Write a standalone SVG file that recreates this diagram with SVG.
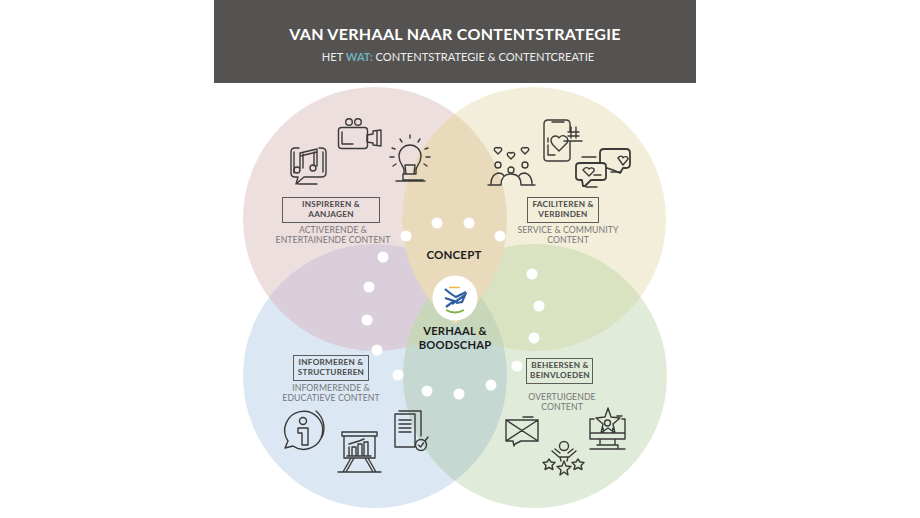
<svg xmlns="http://www.w3.org/2000/svg" width="920" height="518" viewBox="0 0 920 518">
<style>
.i{fill:none;stroke:#3a3a38;stroke-width:1.4;stroke-linecap:round;stroke-linejoin:round}
.t{font-family:"Lato","Liberation Sans",sans-serif;text-anchor:middle}
.h{font-weight:700;font-size:8.2px;fill:#4a4a48;letter-spacing:.25px}
.s{font-size:8.700px;fill:#77777a;letter-spacing:.08px}
.b{fill:none;stroke:#5c5c5a;stroke-width:1}
.k{font-weight:700;font-size:11.200px;fill:#1c1c1c;letter-spacing:.2px}
.d{fill:#fff}
</style>
<defs>
<clipPath id="cP"><circle cx="375" cy="219" r="132"/></clipPath>
<clipPath id="cY"><circle cx="534" cy="219" r="132"/></clipPath>
<clipPath id="cB"><circle cx="375" cy="376" r="132"/></clipPath>
<clipPath id="cG"><circle cx="535" cy="376" r="132"/></clipPath>
</defs>
<rect width="920" height="518" fill="#fff"/>
<g id="header">
<rect x="214" y="0" width="482" height="83" fill="#545351"/>
<text class="t" x="455" y="39.500" font-size="16" font-weight="700" fill="#fff" letter-spacing=".3">VAN VERHAAL NAAR CONTENTSTRATEGIE</text>
<text class="t" x="458" y="61" font-size="11.100" fill="#eeeeee">HET <tspan fill="#6fb0b8" font-weight="700">WAT:</tspan> CONTENTSTRATEGIE &amp; CONTENTCREATIE</text>
</g>
<g id="venn">
<circle cx="375" cy="219" r="132" fill="#eedfdf"/>
<circle cx="534" cy="219" r="132" fill="#f3eedA"/>
<circle cx="375" cy="376" r="132" fill="#dbe7f3"/>
<circle cx="535" cy="376" r="132" fill="#e1ebd9"/>
<g clip-path="url(#cP)"><circle cx="375" cy="376" r="132" fill="#dbcedb"/></g>
<g clip-path="url(#cY)"><circle cx="535" cy="376" r="132" fill="#d9e3c2"/></g>
<g clip-path="url(#cB)"><circle cx="535" cy="376" r="132" fill="#c5d8d1"/></g>
<g clip-path="url(#cB)"><g clip-path="url(#cG)"><circle cx="375" cy="219" r="132" fill="#c8d6ba"/><circle cx="534" cy="219" r="132" fill="#c8d6ba"/></g></g>
<g clip-path="url(#cP)"><circle cx="534" cy="219" r="132" fill="#e8dabb"/></g>
</g>
<g id="connectors" class="d">
<circle cx="406" cy="236" r="5.500"/><circle cx="437" cy="223" r="5.500"/><circle cx="469" cy="223" r="5.500"/><circle cx="500" cy="236" r="5.500"/>
<circle cx="383" cy="257" r="5.500"/><circle cx="369" cy="287" r="5.500"/><circle cx="367" cy="320" r="5.500"/><circle cx="377" cy="350" r="5.500"/>
<circle cx="398" cy="375" r="5.500"/><circle cx="427" cy="391" r="5.500"/><circle cx="459" cy="394" r="5.500"/><circle cx="491" cy="385" r="5.500"/>
<circle cx="517" cy="366" r="5.500"/><circle cx="534" cy="338" r="5.500"/><circle cx="539" cy="306" r="5.500"/><circle cx="532" cy="274" r="5.500"/>
</g>
<g id="node-inspireren">
<rect class="b" x="282.500" y="197.500" width="97" height="25"/>
<text class="t h" x="331" y="207">INSPIREREN &amp;</text><text class="t h" x="331" y="217">AANJAGEN</text>
<text class="t s" x="333" y="233">ACTIVERENDE &amp;</text><text class="t s" x="333" y="243">ENTERTAINENDE CONTENT</text>
<path class="i" d="M299 148h-4q-4 0-4 4v21q0 4 4 4h3l-2 7 8-7h17q5 0 5-4v-21q0-4-5-4h-2M298 184h19M294 152v21M323 152v20"/>
<path class="i" d="M300 168v-15l17-4v17M300 156l17-4M303 168v-14M314 166v-14"/>
<circle class="i" cx="297" cy="170" r="3"/><circle class="i" cx="313" cy="168" r="3"/>
<rect class="i" x="338.500" y="127.500" width="29" height="21" rx="3"/><path class="i" d="M342 132v12h11M367 135l6-1v-3l8-1v16l-8-1v-2l-6-1zM377 131v14"/>
<circle class="i" cx="349" cy="122" r="3.300"/><circle class="i" cx="358" cy="122" r="3.300"/>
<path class="i" d="M404 174v-4c0-4-5-6-5-14a11 11 0 0 1 22 0c0 8-5 10-5 14v4zM406 174l-1-9h10l-1 9M403 174v6h20M396 181h29M395 149l-3-1M394 157h-4M396 164l-3 2M402 142l-2-3M410 138v-3M418 142l2-3M425 149l3-1M426 157h4M424 164l3 2"/>
</g>
<g id="node-faciliteren">
<rect class="b" x="527.500" y="197.500" width="71" height="25"/>
<text class="t h" x="563" y="207">FACILITEREN &amp;</text><text class="t h" x="563" y="217">VERBINDEN</text>
<text class="t s" x="568" y="233">SERVICE &amp; COMMUNITY</text><text class="t s" x="568" y="243">CONTENT</text>
<path class="i" d="M570 131v-7q0-4-4-4h-18q-4 0-4 4v34q0 3 4 3h18q4 0 4-3v-16M552 122h12M548 142v-4M548 145v10h7M553 145c-6-7 3-12 6-7 3-5 11-1 8 5l-8 8zM564 141h18M568 132h11M568 136h11M571 127v11M576 127v11"/>
<path class="i" d="M495 151c-2-3 1-4 3-3 2-1 5 0 3 3l-3 3zM508 156c-2-3 1-4 3-3 2-1 5 0 3 3l-3 3zM522 151c-2-3 1-4 3-3 2-1 5 0 3 3l-3 3zM488 185h12M522 185h13M491 184c0-7 3-10 7-11 2 0 5 1 6 3M532 184c0-7-3-10-7-11-2 0-5 1-6 3M501 185c0-8 4-11 10-11s10 3 10 11"/>
<circle class="i" cx="498" cy="165" r="3"/><circle class="i" cx="511" cy="170" r="3"/><circle class="i" cx="525" cy="165" r="3"/>
<path class="i" style="stroke-width:1.800" d="M600 162v-9q0-4 4-4h22q4 0 4 4v11q0 4-4 4h-3l-3 5-7-3-6-2M580 163h22q4 0 4 3v11q0 3-4 3h-11l-6 6-2 0-1-6h-2q-4 0-4-3v-11q0-3 4-3z"/>
<path class="i" d="M618 158c2-3 5-2 5 0 1-2 5-2 5 1l-5 6zM583 170c2-3 5-3 6-1 2-2 6-1 5 2l-5 5zM594 175h7M582 157h14M586 187h11M611 172h10"/>
</g>
<g id="node-informeren">
<rect class="b" x="293.500" y="355.500" width="75" height="25"/>
<text class="t h" x="331" y="365">INFORMEREN &amp;</text><text class="t h" x="331" y="375">STRUCTUREREN</text>
<text class="t s" x="331" y="391">INFORMERENDE &amp;</text><text class="t s" x="331" y="401">EDUCATIEVE CONTENT</text>
<path class="i" d="M293 446l-8 2 3-7a19 19 0 1 1 5 5z"/><path class="i" d="M316 411a22 22 0 0 1 6 26"/><circle class="i" cx="303" cy="421" r="3.500"/><path class="i" d="M298 428h10v17h-6v-12h-4z"/>
<path class="i" d="M342 432h35v4h-35zM344 436v22h31v-22M349 456v-9M352 456v-9h4v9M358 456v-12h4v12M364 456v-14h4v14M347 456h24M349 444l10-3 5-2M354 458l-8 14M365 458l8 14M351 458l-8 14M368 458l8 14M338 472h43"/>
<path class="i" d="M395 414h20v33h-20zM399 411h22v25M399 420h12M399 424h12M399 428h12M399 432h12"/>
<circle class="i" cx="421" cy="445" r="5.500"/><path class="i" d="M418.500 445l2 2 3-4M425 441l3-4"/>
</g>
<g id="node-beheersen">
<rect class="b" x="526.500" y="358.500" width="66" height="25"/>
<text class="t h" x="560" y="368">BEHEERSEN &amp;</text><text class="t h" x="560" y="378">BEINVLOEDEN</text>
<text class="t s" x="562" y="400">OVERTUIGENDE</text><text class="t s" x="562" y="410">CONTENT</text>
<path class="i" d="M506 420h32v21h-17l-6 3-1 2-1-5h-7zM506 420l32 21M538 420l-32 21M523 417h10"/>
<path class="i" d="M594 419h-4v20h35v-20h-3M590 433h35M600 439v6M615 439v6M597 445h21v3M590 449h35M608 408l3 9 9 1-7 6 2 9-7-5-7 5 2-9-7-6 9-1zM604 433l-1-5M612 433l1-5M617 416h5"/><circle class="i" cx="607.500" cy="423" r="3"/>
<circle class="i" cx="564" cy="446" r="4.500"/><path class="i" d="M552 451l7 6h10l7-6M555 449l5 4M573 449l-5 4M560 457l1 4M568 457l-1 4"/>
<path class="i" d="M549 459l2 3 4 .5-3 3 1 4-4-2-4 2 1-4-3-3 4-.5zM564 461l2 5 5 .5-4 3.500 1 5-4-3-4 3 1-5-4-3.500 5-.5zM578 459l2 3 4 .5-3 3 1 4-4-2-4 2 1-4-3-3 4-.5z"/>
</g>
<g id="node-concept"><text class="t k" style="font-size:11.500px" x="454" y="259">CONCEPT</text></g>
<g id="node-verhaal">
<circle cx="455" cy="298" r="22.500" fill="#fff"/>
<path d="M445 289q7 6 11 8l10-5" fill="none" stroke="#2f5f9e" stroke-width="2.200"/>
<path d="M445 298l9 3-8 6M452 304l13-9-3 7-6 1" fill="none" stroke="#2f5f9e" stroke-width="2.200"/>
<path d="M449 287.500h11" stroke="#e8b93a" stroke-width="1.500"/>
<path d="M446 310q9 5 18 0" fill="none" stroke="#7fb04a" stroke-width="2"/>
<text class="t k" x="455" y="335">VERHAAL &amp;</text><text class="t k" x="455" y="349">BOODSCHAP</text>
</g>
</svg>
